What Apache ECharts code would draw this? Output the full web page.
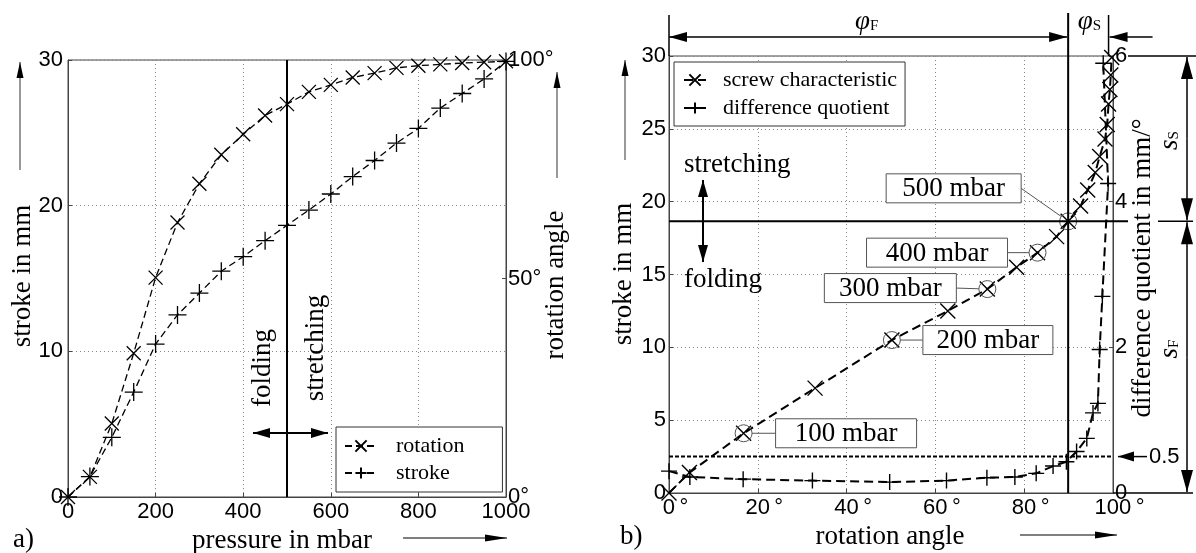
<!DOCTYPE html>
<html>
<head>
<meta charset="utf-8">
<script src="https://cdn.jsdelivr.net/npm/echarts@6/dist/echarts.min.js"></script>
<style>
  html, body { margin: 0; background: #fff; }
  #main { width: 1196px; height: 553px; }
</style>
</head>
<body>
<div id="main"></div>
<script>
// a) pressure steps (mbar) with rotation angle and stroke
const pressure = [0, 50, 100, 150, 200, 250, 300, 350, 400, 450, 500, 550, 600, 650, 700, 750, 800, 850, 900, 950, 1000];
const rotationDeg = [0, 4.6, 16.8, 32.9, 50.2, 62.8, 71.7, 78.3, 83.0, 87.3, 89.9, 92.7, 94.3, 96.0, 97.0, 98.2, 98.7, 99.0, 99.3, 99.5, 99.7];
const strokeMm = [0, 1.4, 4.1, 7.2, 10.5, 12.5, 14.0, 15.5, 16.5, 17.6, 18.65, 19.7, 20.8, 22.0, 23.1, 24.3, 25.3, 26.7, 27.7, 28.7, 29.9];

// b) difference quotient (mm/deg) over rotation angle
const dqAngle = [0, 4.7, 16.7, 32.3, 49.7, 62.5, 71.6, 77.9, 82.7, 86.5, 89.5, 91.8, 94.1, 95.5, 96.6, 97.0, 97.6, 98.9, 97.8];
const dqValue = [0.30, 0.22, 0.19, 0.17, 0.15, 0.17, 0.21, 0.22, 0.27, 0.37, 0.43, 0.57, 0.75, 1.10, 1.23, 1.97, 2.70, 4.25, 5.90];

// annotated pressure points in b)
const markedIdx = [2, 4, 6, 8, 10];
const markedLabels = ['100 mbar', '200 mbar', '300 mbar', '400 mbar', '500 mbar'];
const foldIdx = 10;       // 500 mbar: folding -> stretching
const maxAngle = 99.0;    // end of rotation (phi_S)
const dqThreshold = 0.5;

const serif = 'Liberation Serif';
const sans = 'Liberation Sans';
const X_SYM = 'path://M0,0L10,10M10,0L0,10';
const PLUS_SYM = 'path://M5,0L5,10M0,5L10,5';

const chart = echarts.init(document.getElementById('main'));

function axis(o) {
  return Object.assign({
    type: 'value',
    axisLine: { show: true, lineStyle: { color: '#444', width: 1 } },
    axisTick: { show: true, inside: true, length: 4, lineStyle: { color: '#444' } },
    axisLabel: { color: '#000', fontFamily: sans, fontSize: 22, margin: 4, formatter: v => String(v) },
    splitLine: { show: true, lineStyle: { color: '#888', width: 1, type: [1, 3] } }
  }, o);
}

const option = {
  animation: false,
  backgroundColor: '#fff',
  grid: [
    { left: 68, top: 60, width: 438, height: 437, show: true, borderColor: '#444', borderWidth: 1 },
    { left: 669, top: 56, width: 444, height: 437, show: true, borderColor: '#444', borderWidth: 1 }
  ],
  xAxis: [
    axis({ gridIndex: 0, min: 0, max: 1000, interval: 200 }),
    axis({ gridIndex: 1, min: 0, max: 100, interval: 20,
      axisLabel: { color: '#000', fontFamily: sans, fontSize: 22, margin: 4, padding: [0, 0, 0, 13],
        formatter: v => v + '\u2009°' } })
  ],
  yAxis: [
    axis({ gridIndex: 0, min: 0, max: 30, interval: 10,
      axisLabel: { color: '#000', fontFamily: sans, fontSize: 22, margin: 5 } }),
    axis({ gridIndex: 0, position: 'right', min: 0, max: 100, interval: 50,
      splitLine: { show: false },
      axisLabel: { color: '#000', fontFamily: sans, fontSize: 22, margin: 2, formatter: v => v + '°' } }),
    axis({ gridIndex: 1, min: 0, max: 30, interval: 5,
      axisLabel: { color: '#000', fontFamily: sans, fontSize: 22, margin: 3 } }),
    axis({ gridIndex: 1, position: 'right', min: 0, max: 6, interval: 2,
      splitLine: { show: false },
      axisLabel: { color: '#000', fontFamily: sans, fontSize: 22, margin: 2 } })
  ],
  legend: [
    {
      data: ['rotation', 'stroke'], left: 336, top: 427, orient: 'vertical', selectedMode: false,
      backgroundColor: '#fff', borderColor: '#333', borderWidth: 1, padding: [7, 38, 7, 8],
      itemWidth: 32, itemHeight: 14, itemGap: 3,
      textStyle: { fontFamily: serif, fontSize: 22, color: '#000', lineHeight: 24, padding: [0, 0, 0, 14] }
    },
    {
      data: ['screw characteristic', 'difference quotient'], left: 674, top: 62, orient: 'vertical', selectedMode: false,
      backgroundColor: '#fff', borderColor: '#333', borderWidth: 1, padding: [6, 8, 6, 9],
      itemWidth: 22, itemHeight: 14, itemGap: 4,
      textStyle: { fontFamily: serif, fontSize: 22, color: '#000', lineHeight: 24, padding: [0, 0, 0, 12] }
    }
  ],
  series: [
    {
      name: 'rotation', type: 'line', xAxisIndex: 0, yAxisIndex: 1,
      data: pressure.map((p, i) => [p, rotationDeg[i]]),
      symbol: X_SYM, symbolSize: 14, showAllSymbol: true, clip: false,
      lineStyle: { color: '#000', width: 1.3, type: [7, 4] },
      itemStyle: { color: 'rgba(0,0,0,0)', borderColor: '#000', borderWidth: 1.3 },
      emphasis: { disabled: true }
    },
    {
      name: 'stroke', type: 'line', xAxisIndex: 0, yAxisIndex: 0,
      data: pressure.map((p, i) => [p, strokeMm[i]]),
      symbol: PLUS_SYM, symbolSize: 18, showAllSymbol: true, clip: false,
      lineStyle: { color: '#000', width: 1.3, type: [7, 4] },
      itemStyle: { color: 'rgba(0,0,0,0)', borderColor: '#000', borderWidth: 1.3 },
      emphasis: { disabled: true },
      markLine: {
        silent: true, symbol: 'none', label: { show: false },
        lineStyle: { color: '#000', width: 2, type: 'solid' },
        data: [{ xAxis: pressure[foldIdx] }]
      }
    },
    {
      name: 'screw characteristic', type: 'line', xAxisIndex: 1, yAxisIndex: 2,
      data: rotationDeg.map((r, i) => [r, strokeMm[i]]),
      symbol: X_SYM, symbolSize: 15, showAllSymbol: true, clip: false,
      lineStyle: { color: '#000', width: 2, type: [9, 5] },
      itemStyle: { color: 'rgba(0,0,0,0)', borderColor: '#000', borderWidth: 1.4 },
      emphasis: { disabled: true },
      markPoint: {
        silent: true, symbol: 'circle', symbolSize: 17, label: { show: false },
        itemStyle: { color: 'rgba(0,0,0,0)', borderColor: '#555', borderWidth: 1 },
        data: markedIdx.map(i => ({ coord: [rotationDeg[i], strokeMm[i]] }))
      }
    },
    {
      name: 'difference quotient', type: 'line', xAxisIndex: 1, yAxisIndex: 3,
      data: dqAngle.map((a, i) => [a, dqValue[i]]),
      symbol: PLUS_SYM, symbolSize: 16, showAllSymbol: true, clip: false,
      lineStyle: { color: '#000', width: 2, type: [9, 5] },
      itemStyle: { color: 'rgba(0,0,0,0)', borderColor: '#000', borderWidth: 1.4 },
      emphasis: { disabled: true }
    }
  ]
};
chart.setOption(option);

// ---- annotations (positions taken from the axes) ----
const P = (xi, yi, x, y) => chart.convertToPixel({ xAxisIndex: xi, yAxisIndex: yi }, [x, y]);
const g = [];

function line(x1, y1, x2, y2, w, color, dash) {
  g.push({ type: 'line', silent: true, z: 50,
    shape: { x1, y1, x2, y2 },
    style: { stroke: color || '#000', lineWidth: w || 1.5, lineDash: dash || null } });
}
function head(x, y, ang, len, hw) {
  len = len || 16; hw = hw || 4.5;
  const bx = x - len * Math.cos(ang), by = y - len * Math.sin(ang);
  const px = -Math.sin(ang) * hw, py = Math.cos(ang) * hw;
  g.push({ type: 'polygon', silent: true, z: 51,
    shape: { points: [[x, y], [bx + px, by + py], [bx - px, by - py]] },
    style: { fill: '#000' } });
}
function arrow(x1, y1, x2, y2, both, w, color, len, hw) {
  line(x1, y1, x2, y2, w, color);
  const a = Math.atan2(y2 - y1, x2 - x1);
  head(x2, y2, a, len, hw);
  if (both) head(x1, y1, a + Math.PI, len, hw);
}
function text(str, x, y, o) {
  o = o || {};
  g.push({ type: 'text', silent: true, z: 60, x, y, rotation: o.rot || 0,
    style: Object.assign({
      text: str, fill: '#000',
      font: (o.italic ? 'italic ' : '') + (o.size || 27) + 'px ' + (o.family || serif),
      textAlign: o.align || 'center', align: o.align || 'center',
      textVerticalAlign: 'middle', verticalAlign: 'middle'
    }, o.style || {}) });
}
const subRich = {
  a: { fontFamily: serif, fontStyle: 'italic', fontSize: 27 },
  b: { fontFamily: serif, fontSize: 15, verticalAlign: 'bottom', padding: [0, 0, 2, 0] }
};

// a)
text('stroke in mm', 23, 276, { rot: Math.PI / 2 });
arrow(20, 170, 20, 62, false, 1.5, '#777', 16, 3.5);
text('rotation angle', 556, 285, { rot: Math.PI / 2 });
arrow(557, 178, 557, 72, false, 1.5, '#777', 16, 3.5);
text('pressure in mbar', 282, 541);
arrow(403, 538, 507, 538, false, 1.5, '#555', 22, 3.5);
text('a)', 13, 540, { align: 'left' });

const [aFoldX] = P(0, 0, pressure[foldIdx], 0);
text('folding', aFoldX - 24, 368, { rot: Math.PI / 2 });
text('stretching', aFoldX + 29, 348, { rot: Math.PI / 2 });
arrow(aFoldX - 34, 433, aFoldX + 41, 433, true, 2, '#000', 17, 5);

// b)
const [bx0, byBot] = P(1, 2, 0, 0);
const [bxR, byTop] = P(1, 2, 100, 30);
const [foldX, foldY] = P(1, 2, rotationDeg[foldIdx], strokeMm[foldIdx]);
const [maxX] = P(1, 2, maxAngle, 0);
const thrY = P(1, 3, 0, dqThreshold)[1];

text('stroke in mm', 624, 274, { rot: Math.PI / 2 });
arrow(625, 160, 625, 60, false, 1.5, '#777', 16, 3.5);
text('rotation angle', 890, 537);
arrow(1020, 535, bxR + 4, 535, false, 1.5, '#555', 22, 3.5);
text('b)', 620, 537, { align: 'left' });

text('stretching', bx0 + 15, 165, { align: 'left' });
text('folding', bx0 + 15, 280, { align: 'left' });
arrow(703, 221, 703, 180, false, 2, '#000', 17, 5);
arrow(703, 221, 703, 262, false, 2, '#000', 17, 5);

// folding/stretching boundary
line(foldX, 13, foldX, byBot, 2);
line(bx0, foldY, bxR + 15, foldY, 2);
// 0.5 threshold
line(bx0, thrY, bxR, thrY, 2, '#000', [4, 2]);
arrow(bxR + 34, thrY, bxR + 5, thrY, false, 1.5, '#000', 16, 5);
text('0.5', bxR + 36, thrY, { align: 'left', family: sans, size: 22 });

// phi_F and phi_S dimensions
const dimY = 37;
line(bx0, 15, bx0, byTop, 1.5);
line(maxX, 15, maxX, byTop, 1.5);
arrow(bx0, dimY, foldX - 1, dimY, true, 1.5, '#000', 18, 5);
arrow(maxX + 44, dimY, maxX + 1, dimY, false, 1.5, '#000', 18, 5);
g.push({ type: 'text', silent: true, z: 60, x: (bx0 + foldX) / 2 - 2, y: 22,
  style: { text: '{a|φ}{b|F}', rich: subRich, fill: '#000', textAlign: 'center', align: 'center',
    textVerticalAlign: 'middle', verticalAlign: 'middle' } });
g.push({ type: 'text', silent: true, z: 60, x: (foldX + maxX) / 2 + 1, y: 22,
  style: { text: '{a|φ}{b|S}', rich: subRich, fill: '#000', textAlign: 'center', align: 'center',
    textVerticalAlign: 'middle', verticalAlign: 'middle' } });

// s_S and s_F dimensions
const dimX = bxR + 74;
line(bxR + 15, byTop, 1196, byTop, 1.5);
line(bxR + 45, foldY, bxR + 80, foldY, 1.5);
line(bxR, byBot, bxR + 80, byBot, 1.5);
arrow(dimX, (byTop + foldY) / 2, dimX, byTop + 1, false, 1.5, '#000', 22, 6);
arrow(dimX, (byTop + foldY) / 2, dimX, foldY - 1, false, 1.5, '#000', 22, 6);
arrow(dimX, (foldY + byBot) / 2, dimX, foldY + 1, false, 1.5, '#000', 22, 6);
arrow(dimX, (foldY + byBot) / 2, dimX, byBot - 1, false, 1.5, '#000', 22, 6);
g.push({ type: 'text', silent: true, z: 60, x: bxR + 57, y: (byTop + foldY) / 2 + 2, rotation: Math.PI / 2,
  style: { text: '{a|s}{b|S}', rich: subRich, fill: '#000', textAlign: 'center', align: 'center',
    textVerticalAlign: 'middle', verticalAlign: 'middle' } });
g.push({ type: 'text', silent: true, z: 60, x: bxR + 57, y: (foldY + byBot) / 2 - 8, rotation: Math.PI / 2,
  style: { text: '{a|s}{b|F}', rich: subRich, fill: '#000', textAlign: 'center', align: 'center',
    textVerticalAlign: 'middle', verticalAlign: 'middle' } });
text('difference quotient in mm/°', bxR + 30, 268, { rot: Math.PI / 2 });

// pressure labels with leader lines
const boxLayout = [
  { side: 'right', gap: 32, dy: 0, w: 141 },
  { side: 'right', gap: 31, dy: 0, w: 130 },
  { side: 'left', gap: 31, dy: -1, w: 132 },
  { side: 'left', gap: 30, dy: 0, w: 141 },
  { side: 'left', gap: 47, dy: -33, w: 135 }
];
markedIdx.forEach((idx, k) => {
  const [cx, cy] = P(1, 2, rotationDeg[idx], strokeMm[idx]);
  const L = boxLayout[k];
  const by = cy + L.dy;
  let x0, lx;
  if (L.side === 'right') { x0 = cx + L.gap; lx = x0; } else { x0 = cx - L.gap - L.w; lx = x0 + L.w; }
  const d = Math.hypot(cx - lx, cy - by);
  const ex = cx + (lx - cx) * 8.5 / d, ey = cy + (by - cy) * 8.5 / d;
  line(lx, by, ex, ey, 1, '#555');
  g.push({ type: 'rect', silent: true, z: 55,
    shape: { x: x0, y: by - 14.5, width: L.w, height: 29 },
    style: { fill: '#fff', stroke: '#555', lineWidth: 1 } });
  text(markedLabels[k], x0 + L.w / 2, by + 1);
});

chart.setOption({ graphic: { elements: g } });
</script>
</body>
</html>
